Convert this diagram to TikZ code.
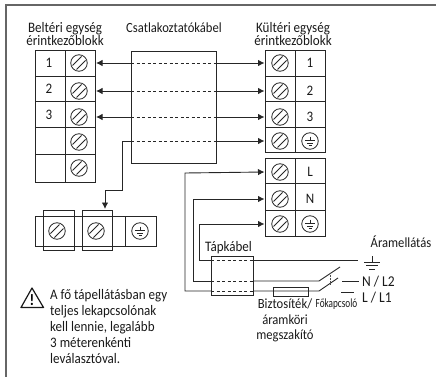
\documentclass[tikz,border=0pt]{standalone}
\usepackage{fontspec}
\setmainfont[FakeStretch=0.9]{Carlito}
\usetikzlibrary{calc}
\usetikzlibrary{arrows.meta}
\tikzset{
  cell/.style={draw=black!85,line width=0.9pt,inner sep=0pt,outer sep=0pt},
  wire/.style={draw=black!85,line width=0.9pt},
  feed/.style={wire,-{Latex[length=6.5pt,width=6.5pt]}},
  dashwire/.style={draw=black!85,line width=0.7pt,dash pattern=on 3pt off 2.5pt},
  label/.style={inner sep=0pt,text=black!90,font=\fontsize{14.5}{13}\selectfont,align=center},
  screw/.style={circle,draw=black!85,line width=0.8pt,minimum size=16.5pt,inner sep=0pt,
    path picture={
      \draw[line width=0.8pt,black!85] ($(path picture bounding box.center)+(-6.5pt,-2.5pt)$) -- ($(path picture bounding box.center)+(2.5pt,6.5pt)$);
      \draw[line width=0.8pt,black!85] ($(path picture bounding box.center)+(-2.5pt,-6.5pt)$) -- ($(path picture bounding box.center)+(6.5pt,2.5pt)$);
    }},
  earth/.style={circle,draw=black!85,line width=0.8pt,minimum size=16.5pt,inner sep=0pt,
    path picture={
      \coordinate (pc) at (path picture bounding box.center);
      \draw[line width=0.7pt,black!85] ($(pc)+(0,4.5pt)$) -- ($(pc)+(0,0.5pt)$);
      \draw[line width=0.7pt,black!85] ($(pc)+(-5pt,0.5pt)$) -- ($(pc)+(5pt,0.5pt)$);
      \draw[line width=0.7pt,black!85] ($(pc)+(-3.2pt,-2pt)$) -- ($(pc)+(3.2pt,-2pt)$);
      \draw[line width=0.7pt,black!85] ($(pc)+(-1.5pt,-4.5pt)$) -- ($(pc)+(1.5pt,-4.5pt)$);
    }},
}
\begin{document}
\begin{tikzpicture}[x=1pt,y=-1pt]
\useasboundingbox (0,0) rectangle (436,377);
% frame
\draw[black!60,line width=1.6pt] (6,377) -- (6,5) -- (436,5);
% headings
\node[label] (inhead) at (65,34) {Beltéri egység\\érintkezőblokk};
\node[label,font=\fontsize{14}{13}\selectfont] (cablehead) at (174,28) {Csatlakoztatókábel};
\node[label] (outhead) at (293,34) {Kültéri egység\\érintkezőblokk};
% indoor block
\foreach \i/\y/\h in {1/63/26,2/88.5/25,3/114/26,4/140.5/27,5/168/28} {
  \node[cell,minimum width=30pt,minimum height=\h pt] (inlabel\i) at (50,\y) {};
  \node[cell,minimum width=30pt,minimum height=\h pt] (incell\i) at (80,\y) {};
}
\foreach \i/\y in {1/63,2/91,3/117,4/142,5/168} {
  \node[screw] (inscrew\i) at (79,\y) {};
}
\foreach \i/\y in {1/63,2/89,3/115} {
  \node[label] (intext\i) at (49,\y) {\i};
}
% cable
\node[cell,minimum width=85pt,minimum height=112pt] (cable) at (173.5,107) {};
% outdoor block
\foreach \i/\y/\h in {1/63/26,2/88.5/25,3/114/26,4/139.5/25,5/171/24.5,6/196.5/27,7/223/26} {
  \node[cell,minimum width=30pt,minimum height=\h pt] (outcell\i) at (280,\y) {};
  \node[cell,minimum width=30pt,minimum height=\h pt] (outlabel\i) at (310,\y) {};
}
\foreach \i/\y in {1/63,2/91,3/117,4/141,5/172,6/199,7/224} {
  \node[screw] (outscrew\i) at (280,\y) {};
  \coordinate (pin\i) at (264.5,\y);
}
\foreach \i/\y/\t in {1/63/1,2/91/2,3/117/3,5/172/L,6/199/N} {
  \node[label] (outtext\i) at (310,\y) {\t};
}
\node[earth] (outearth1) at (310,141) {};
\node[earth] (outearth2) at (310,224) {};
% cable wires
\foreach \i/\y in {1/63,2/91,3/117,4/141} {
  \coordinate (cl\i) at (131,\y);
  \coordinate (cr\i) at (216,\y);
  \draw[dashwire] (cl\i) -- (cr\i);
  \draw[feed] (cr\i) -- (pin\i);
}
\foreach \i in {1,2,3} {
  \draw[feed] (cl\i) -- ($(cl\i -| incell\i.east)+(1,0)$);
}
% lower block
\node[cell,minimum width=121pt,minimum height=30pt] (lower) at (95.5,231) {};
\node[cell,minimum width=31pt,minimum height=40pt] (clamp1) at (58.5,230) {};
\node[cell,minimum width=30pt,minimum height=40pt] (clamp2) at (97,230) {};
\draw[wire] (125,216) -- (125,246);
\node[screw] (lowscrew1) at (57,231) {};
\node[screw] (lowscrew2) at (96,231) {};
\node[earth] (lowearth) at (140,231) {};
\coordinate (drop) at (105,209);
\draw[feed] (cl4) -- (122.5,141) -- (122.5,190) -- (105,190) -- (drop);
% power cable
\node[cell,minimum width=42pt,minimum height=39pt] (power) at (232,275.5) {};
\node[label,anchor=base west] (powerhead) at (205,251) {Tápkábel};
\coordinate (pl1) at (211,260);
\coordinate (pl2) at (211,281);
\coordinate (pl3) at (211,291);
\coordinate (pr1) at (253,260);
\coordinate (pr2) at (253,281);
\coordinate (pr3) at (253,291);
\foreach \i in {1,2,3} {
  \draw[dashwire] (pl\i) -- (pr\i);
}
\draw[feed] (pl3) -- (185,291) -- (185,173) -- (pin5);
\draw[feed] (pl2) -- (193,281) -- (193,199) -- (pin6);
\draw[feed] (pl1) -- (199.5,260) -- (199.5,224) -- (pin7);
% switch and fuse
\coordinate (gnd) at (358,260);
\coordinate (swn) at (319,281);
\coordinate (swl) at (319,291);
\coordinate (swntip) at (340,267);
\coordinate (swltip) at (338,278);
\draw[wire] (pr1) -- (gnd);
\draw[wire] (pr2) -- (swn) -- (swntip);
\draw[wire] (pr3) -- (swl) -- (swltip);
\node[cell,minimum width=35pt,minimum height=9pt] (fuse) at (290.5,291.5) {};
\draw[black!70,line width=0.5pt,densely dotted] (330,273) -- (330,284);
\coordinate (nl) at (342,281);
\coordinate (ll) at (341,292);
\draw[wire] (nl) -- (359,281);
\draw[wire] (ll) -- (354,292);
% ground
\draw[wire] (372,256) -- (372,262);
\draw[wire] (364,262) -- (380,262);
\draw[wire] (366,265.5) -- (378,265.5);
\draw[wire] (369,269) -- (375,269);
% power labels
\node[label,anchor=west,font=\fontsize{14}{14}\selectfont] (supply) at (370.5,242) {Áramellátás};
\node[label,anchor=west,font=\fontsize{15}{14}\selectfont] (ntext) at (362,282) {N / L2};
\node[label,anchor=west,font=\fontsize{15}{14}\selectfont] (ltext) at (362,298) {L / L1};
\node[label,anchor=north,font=\fontsize{14}{13}\selectfont] (fusetext) at (285,299) {Biztosíték/\\[2.5pt]áramköri\\[2.5pt]megszakító};
\node[label,xscale=0.82,font=\fontsize{12.5}{11}\selectfont] (mainswitch) at (336.5,304) {Főkapcsoló};
% warning
\node[label,anchor=north west,align=left,font=\fontsize{14.5}{16}\selectfont] (warntext) at (50,289) {A fő tápellátásban egy\\teljes lekapcsolónak\\kell lennie, legalább\\3 méterenkénti\\leválasztóval.};
\coordinate (warna) at (32,288);
\coordinate (warnb) at (21,307.5);
\coordinate (warnc) at (43.5,307.5);
\draw[black!90,line width=1.2pt,line join=round] (warna) -- (warnb) -- (warnc) -- cycle;
\node[inner sep=0pt,font=\bfseries\fontsize{16}{16}\selectfont] (warnmark) at (32,300) {!};
\end{tikzpicture}
\end{document}
